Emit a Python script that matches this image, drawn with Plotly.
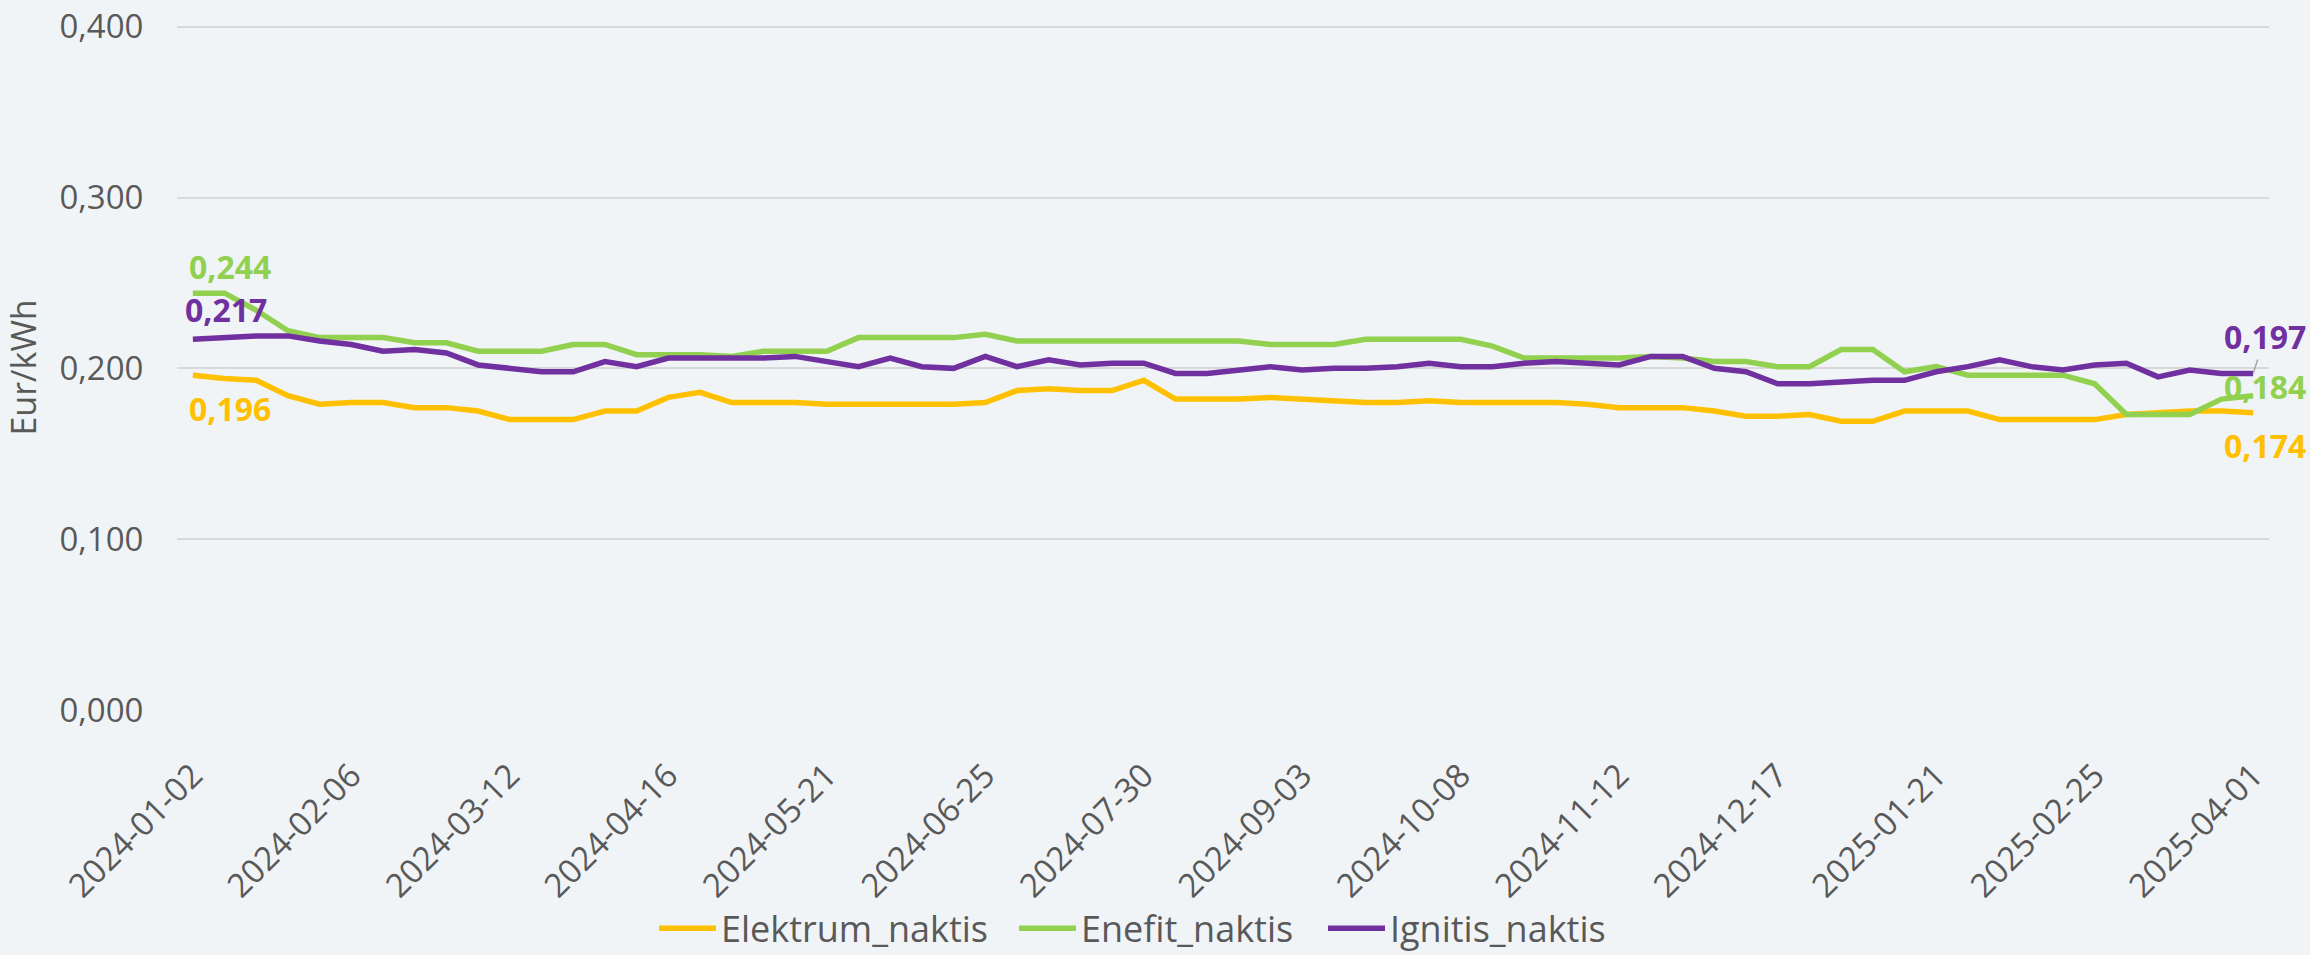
import pandas as pd
import plotly.graph_objects as go

# Weekly dates (categories)
dates = [d.strftime("%Y-%m-%d") for d in pd.date_range("2024-01-02", "2025-04-01", freq="7D")]

elektrum = [0.196, 0.194, 0.193, 0.184, 0.179, 0.180, 0.180, 0.177, 0.177, 0.175,
            0.170, 0.170, 0.170, 0.175, 0.175, 0.183, 0.186, 0.180, 0.180, 0.180,
            0.179, 0.179, 0.179, 0.179, 0.179, 0.180, 0.187, 0.188, 0.187, 0.187,
            0.193, 0.182, 0.182, 0.182, 0.183, 0.182, 0.181, 0.180, 0.180, 0.181,
            0.180, 0.180, 0.180, 0.180, 0.179, 0.177, 0.177, 0.177, 0.175, 0.172,
            0.172, 0.173, 0.169, 0.169, 0.175, 0.175, 0.175, 0.170, 0.170, 0.170,
            0.170, 0.173, 0.174, 0.175, 0.175, 0.174]

enefit = [0.244, 0.244, 0.234, 0.222, 0.218, 0.218, 0.218, 0.215, 0.215, 0.210,
          0.210, 0.210, 0.214, 0.214, 0.208, 0.208, 0.208, 0.207, 0.210, 0.210,
          0.210, 0.218, 0.218, 0.218, 0.218, 0.220, 0.216, 0.216, 0.216, 0.216,
          0.216, 0.216, 0.216, 0.216, 0.214, 0.214, 0.214, 0.217, 0.217, 0.217,
          0.217, 0.213, 0.206, 0.206, 0.206, 0.206, 0.207, 0.206, 0.204, 0.204,
          0.201, 0.201, 0.211, 0.211, 0.198, 0.201, 0.196, 0.196, 0.196, 0.196,
          0.191, 0.173, 0.173, 0.173, 0.182, 0.184]

ignitis = [0.217, 0.218, 0.219, 0.219, 0.216, 0.214, 0.210, 0.211, 0.209, 0.202,
           0.200, 0.198, 0.198, 0.204, 0.201, 0.206, 0.206, 0.206, 0.206, 0.207,
           0.204, 0.201, 0.206, 0.201, 0.200, 0.207, 0.201, 0.205, 0.202, 0.203,
           0.203, 0.197, 0.197, 0.199, 0.201, 0.199, 0.200, 0.200, 0.201, 0.203,
           0.201, 0.201, 0.203, 0.204, 0.203, 0.202, 0.207, 0.207, 0.200, 0.198,
           0.191, 0.191, 0.192, 0.193, 0.193, 0.198, 0.201, 0.205, 0.201, 0.199,
           0.202, 0.203, 0.195, 0.199, 0.197, 0.197]

series = [
    ("Elektrum_naktis", elektrum, "#FFC000", "legend"),
    ("Enefit_naktis", enefit, "#92D050", "legend2"),
    ("Ignitis_naktis", ignitis, "#7030A0", "legend3"),
]

yticks = [0.0, 0.1, 0.2, 0.3, 0.4]
FONT = "Open Sans"
GRAY = "#595959"

fig = go.Figure()
for name, vals, color, leg in series:
    fig.add_trace(go.Scatter(x=dates, y=vals, name=name, mode="lines", legend=leg,
                             line=dict(color=color, width=5.5)))

def fmt(v):
    return f"{v:.3f}".replace(".", ",")

lab_font = lambda c: dict(family=FONT, size=32, color=c, weight="bold")

# first-point labels
fig.add_annotation(x=dates[0], y=enefit[0], text=fmt(enefit[0]), showarrow=False,
                   xanchor="left", yanchor="middle", xshift=-6, yshift=27, font=lab_font("#92D050"))
fig.add_annotation(x=dates[0], y=ignitis[0], text=fmt(ignitis[0]), showarrow=False,
                   xanchor="left", yanchor="middle", xshift=-10, yshift=30, font=lab_font("#7030A0"))
fig.add_annotation(x=dates[0], y=elektrum[0], text=fmt(elektrum[0]), showarrow=False,
                   xanchor="left", yanchor="middle", xshift=-6, yshift=-33, font=lab_font("#FFC000"))
# last-point labels
fig.add_annotation(x=dates[-1], y=ignitis[-1], text=fmt(ignitis[-1]), showarrow=True,
                   arrowhead=0, arrowwidth=1.5, arrowcolor="#A6A6A6", ax=12, ay=-37,
                   xanchor="center", yanchor="middle", font=lab_font("#7030A0"))
fig.add_annotation(x=dates[-1], y=enefit[-1], text=fmt(enefit[-1]), showarrow=False,
                   xanchor="left", yanchor="middle", xshift=-31, yshift=9, font=lab_font("#92D050"))
fig.add_annotation(x=dates[-1], y=elektrum[-1], text=fmt(elektrum[-1]), showarrow=False,
                   xanchor="left", yanchor="middle", xshift=-31, yshift=-33, font=lab_font("#FFC000"))

leg_common = dict(orientation="h", xref="container", yref="container",
                  xanchor="left", y=0.028, yanchor="middle",
                  font=dict(family=FONT, size=36, color=GRAY),
                  bgcolor="rgba(0,0,0,0)", itemwidth=57)

fig.update_layout(
    width=2310, height=955,
    paper_bgcolor="#F0F4F7", plot_bgcolor="#F0F4F7",
    margin=dict(l=177, r=41, t=25, b=245, autoexpand=False),
    separators=", ",
    font=dict(family=FONT, color=GRAY),
    showlegend=True,
    legend=dict(x=654 / 2310, **leg_common),
    legend2=dict(x=1014 / 2310, **leg_common),
    legend3=dict(x=1323 / 2310, **leg_common),
)
fig.update_xaxes(
    type="category", range=[-0.5, len(dates) - 0.5],
    tickvals=dates[::5], ticktext=dates[::5], tickangle=-45,
    tickfont=dict(family=FONT, size=33, color=GRAY),
    showgrid=False, zeroline=False, showline=False,
    ticks="outside", ticklen=32, tickcolor="rgba(0,0,0,0)",
)
fig.update_yaxes(
    range=[0, 0.401], tickvals=yticks, tickformat=".3f",
    tickfont=dict(family=FONT, size=33, color=GRAY),
    showgrid=True, gridcolor="#D9D9D9", gridwidth=2, zeroline=False, showline=False,
    ticks="outside", ticklen=26, tickcolor="rgba(0,0,0,0)",
    title=dict(text="Eur/kWh", font=dict(family=FONT, size=34, color=GRAY), standoff=14),
)

fig.write_html(
    "out.html",
    config={"displayModeBar": False},
    post_script="document.body.style.margin='0px';document.body.style.padding='0px';"
                "document.body.style.overflow='hidden';",
)
